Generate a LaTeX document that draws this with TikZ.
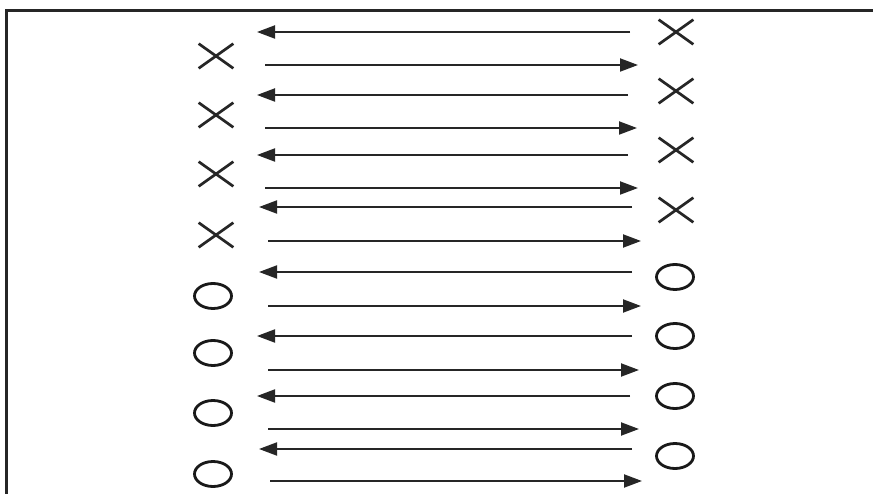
\documentclass[tikz,border=0pt]{standalone}
\usetikzlibrary{arrows.meta,shapes.geometric,shapes.misc}
\begin{document}
\begin{tikzpicture}[x=1pt,y=-1pt,
  frame/.style={line width=3pt,draw=black!85},
  xmark/.style={cross out,draw=black!85,line width=2.7pt,minimum width=32pt,minimum height=22pt,inner sep=0pt},
  omark/.style={ellipse,draw=black!90,line width=2.8pt,minimum width=37pt,minimum height=25pt,inner sep=0pt},
  flow/.style={line width=2pt,draw=black!85,-{Triangle[length=18pt,width=13pt]}}]
\useasboundingbox (0,0) rectangle (873,494);
\fill[white] (0,0) rectangle (873,494);
% frame (left and top only)
\coordinate (fbl) at (6.5,494);
\coordinate (ftl) at (6.5,11);
\coordinate (ftr) at (873,11);
\draw[frame] (fbl) -- (ftl) -- (ftr);
% left symbols
\node[xmark] (l1) at (216,56) {};
\node[xmark] (l2) at (216,115) {};
\node[xmark] (l3) at (216,174) {};
\node[xmark] (l4) at (216,235) {};
\node[omark] (l5) at (213,296) {};
\node[omark] (l6) at (213,353) {};
\node[omark] (l7) at (213,413) {};
\node[omark] (l8) at (213,474) {};
% right symbols
\node[xmark] (r1) at (676,32) {};
\node[xmark] (r2) at (676,91) {};
\node[xmark] (r3) at (676,150) {};
\node[xmark] (r4) at (676,210) {};
\node[omark] (r5) at (675,277) {};
\node[omark] (r6) at (675,336) {};
\node[omark] (r7) at (675,396) {};
\node[omark] (r8) at (675,456) {};
% arrow end points
\foreach \i/\y/\a/\b in {1/32/630/257,2/95/628/257,3/155/628/257,4/207/632/259,5/272/632/259,6/336/632/257,7/396/630/257,8/449/632/259}{
  \coordinate (bs\i) at (\a,\y);
  \coordinate (be\i) at (\b,\y);
}
\foreach \i/\y/\a/\b in {1/65/265/638,2/128/265/637,3/188/265/638,4/241/268/641,5/306/268/641,6/370/268/639,7/429/268/639,8/481/270/642}{
  \coordinate (fs\i) at (\a,\y);
  \coordinate (fe\i) at (\b,\y);
}
\foreach \i in {1,...,8}{
  \draw[flow] (bs\i) -- (be\i);
  \draw[flow] (fs\i) -- (fe\i);
}
\end{tikzpicture}
\end{document}
